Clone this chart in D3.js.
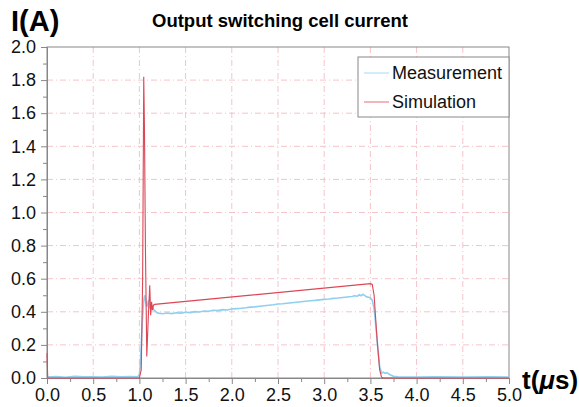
<!DOCTYPE html>
<html>
<head>
<meta charset="utf-8">
<script src="https://cdn.jsdelivr.net/npm/d3@7"></script>
<style>
  body { margin: 0; background: #fff; }
  text { font-family: "Liberation Sans", Arial, sans-serif; }
</style>
</head>
<body>
<div id="vis"></div>
<script>
var measT = [0, 0.1, 0.2, 0.3, 0.4, 0.5, 0.6, 0.7, 0.8, 0.9, 0.98,
  1.0, 1.01, 1.02, 1.03, 1.04, 1.05, 1.06, 1.07, 1.08, 1.09, 1.1, 1.11, 1.12, 1.13, 1.14, 1.16, 1.18, 1.2,
  1.25, 1.3, 1.35, 1.4, 1.45, 1.5, 1.55, 1.6, 1.65, 1.7, 1.75, 1.8, 1.85, 1.9, 1.95, 2.0,
  2.05, 2.1, 2.15, 2.2, 2.25, 2.3, 2.35, 2.4, 2.45, 2.5, 2.55, 2.6, 2.65, 2.7, 2.75, 2.8,
  2.85, 2.9, 2.95, 3.0, 3.05, 3.1, 3.15, 3.2, 3.25, 3.3, 3.33, 3.36, 3.38, 3.4, 3.42, 3.44,
  3.46, 3.48, 3.5, 3.52, 3.54, 3.56, 3.58, 3.6, 3.62, 3.64, 3.66, 3.68, 3.7, 3.72, 3.75,
  3.8, 4.0, 4.2, 4.5, 4.8, 5.0];
var measI = [0.006, 0.009, 0.005, 0.010, 0.007, 0.008, 0.006, 0.010, 0.007, 0.009, 0.008,
  0.02, 0.08, 0.2, 0.32, 0.42, 0.48, 0.5, 0.46, 0.43, 0.45, 0.47, 0.42, 0.44, 0.41, 0.43, 0.41, 0.40, 0.392,
  0.388, 0.393, 0.389, 0.394, 0.392, 0.397, 0.395, 0.401, 0.399, 0.405, 0.403, 0.409, 0.407, 0.413, 0.411, 0.417,
  0.419, 0.421, 0.424, 0.428, 0.43, 0.434, 0.437, 0.44, 0.443, 0.447, 0.449, 0.452, 0.455, 0.458, 0.461, 0.464,
  0.467, 0.469, 0.472, 0.475, 0.477, 0.481, 0.483, 0.486, 0.489, 0.492, 0.497, 0.494, 0.503, 0.497, 0.506, 0.498,
  0.49, 0.488, 0.484, 0.47, 0.42, 0.31, 0.18, 0.07, 0.03, 0.035, 0.028, 0.032, 0.024, 0.018, 0.01,
  0.007, 0.006, 0.007, 0.006, 0.007, 0.006];

// simulated current
var simT = [0, 0.008, 1.0, 1.02, 1.035, 1.047, 1.055, 1.065, 1.08, 1.095, 1.112, 1.122, 1.132, 1.142, 1.152,
  1.165, 3.5, 3.52, 3.54, 3.57, 3.6, 3.62, 3.64, 5.0];
var simI = [0.15, 0, 0, 0.05, 0.6, 1.82, 1.5, 0.8, 0.13, 0.35, 0.56, 0.38, 0.46, 0.41, 0.44,
  0.445, 0.57, 0.565, 0.5, 0.25, 0.05, 0.005, 0, 0];

var xTicks = [0, 0.5, 1, 1.5, 2, 2.5, 3, 3.5, 4, 4.5, 5];
var yTicks = [0, 0.2, 0.4, 0.6, 0.8, 1.0, 1.2, 1.4, 1.6, 1.8, 2.0];
var seriesNames = ["Measurement", "Simulation"];
var seriesColors = ["#8fcff0", "#dc4655"];

var w = 579, h = 407;
var pLeft = 47, pRight = 509, pTop = 47, pBottom = 378;

var svg = d3.select("#vis").append("svg")
  .attr("width", w)
  .attr("height", h);

var x = d3.scaleLinear().domain([0, 5]).range([pLeft, pRight]);
var y = d3.scaleLinear().domain([0, 2]).range([pBottom, pTop]);

// grid
var grid = svg.append("g");
grid.selectAll(".gx").data(xTicks.slice(1, -1)).enter().append("line")
  .attr("x1", function(d) { return x(d); }).attr("x2", function(d) { return x(d); })
  .attr("y1", pTop).attr("y2", pBottom)
  .attr("stroke", "#f6c3c8").attr("stroke-dasharray", "6,3,1,3");
grid.selectAll(".gy").data(yTicks.slice(1, -1)).enter().append("line")
  .attr("y1", function(d) { return y(d); }).attr("y2", function(d) { return y(d); })
  .attr("x1", pLeft).attr("x2", pRight)
  .attr("stroke", "#f6c3c8").attr("stroke-dasharray", "6,3,1,3");

// frame
svg.append("rect")
  .attr("x", pLeft).attr("y", pTop)
  .attr("width", pRight - pLeft).attr("height", pBottom - pTop)
  .attr("fill", "none").attr("stroke", "#888");

// axes
svg.append("g").attr("transform", "translate(0," + pBottom + ")")
  .call(d3.axisBottom(x).tickValues(xTicks).tickFormat(d3.format(".1f")).tickSize(6).tickPadding(4));
svg.append("g").attr("transform", "translate(0," + pBottom + ")")
  .call(d3.axisBottom(x).tickValues(d3.range(0.25, 5, 0.5)).tickFormat("").tickSize(4));
svg.append("g").attr("transform", "translate(" + pLeft + ",0)")
  .call(d3.axisLeft(y).tickValues(yTicks).tickFormat(d3.format(".1f")).tickSize(6).tickPadding(5));
svg.append("g").attr("transform", "translate(" + pLeft + ",0)")
  .call(d3.axisLeft(y).tickValues(d3.range(0.1, 2, 0.2)).tickFormat("").tickSize(4));

svg.selectAll(".domain").attr("stroke", "#888");
svg.selectAll(".tick line").attr("stroke", "#888");
svg.selectAll(".tick text").attr("font-size", "18px").attr("fill", "#111")
  .style("font-family", "'Liberation Sans', Arial, sans-serif");

// curves
var line = d3.line()
  .x(function(d) { return x(d[0]); })
  .y(function(d) { return y(d[1]); });

var meas = measT.map(function(t, i) { return [t, measI[i]]; });
var sim = simT.map(function(t, i) { return [t, simI[i]]; });

svg.append("path").datum(meas)
  .attr("d", line).attr("fill", "none")
  .attr("stroke", seriesColors[0]).attr("stroke-width", 1.6);
svg.append("path").datum(sim)
  .attr("d", line).attr("fill", "none")
  .attr("stroke", seriesColors[1]).attr("stroke-width", 1.1);

// legend
var lg = svg.append("g");
lg.append("rect")
  .attr("x", 358).attr("y", 57).attr("width", 151).attr("height", 60)
  .attr("fill", "#fff").attr("stroke", "#888");
seriesNames.forEach(function(name, i) {
  var ly = 73 + i * 29;
  lg.append("line")
    .attr("x1", 364).attr("x2", 389).attr("y1", ly).attr("y2", ly)
    .attr("stroke", seriesColors[i]).attr("stroke-width", 0.8);
  lg.append("text")
    .attr("x", 392).attr("y", ly + 6)
    .attr("font-size", "18px").attr("fill", "#111")
    .text(name);
});

// titles
svg.append("text")
  .attr("x", 280).attr("y", 27)
  .attr("text-anchor", "middle")
  .attr("font-size", "18.5px").attr("font-weight", "bold")
  .text("Output switching cell current");
svg.append("text")
  .attr("x", 11).attr("y", 31)
  .attr("font-size", "29px").attr("font-weight", "bold")
  .text("I(A)");
var tl = svg.append("text")
  .attr("x", 522).attr("y", 389)
  .attr("font-size", "26px").attr("font-weight", "bold");
tl.append("tspan").text("t(");
tl.append("tspan").attr("font-style", "italic").text("\u03bc");
tl.append("tspan").text("s)");
</script>
</body>
</html>
